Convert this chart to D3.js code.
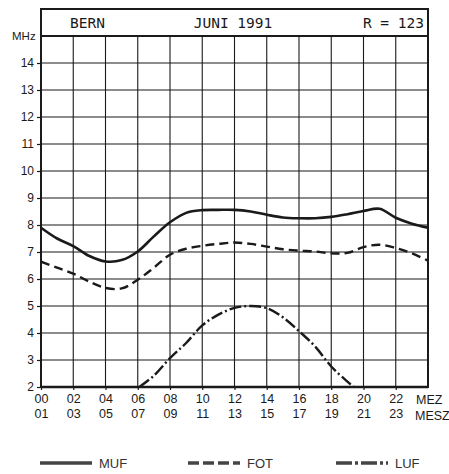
<!DOCTYPE html>
<html><head><meta charset="utf-8">
<script src="https://cdn.jsdelivr.net/npm/d3@7"></script>
<style>body{margin:0;background:#fff}svg{display:block}</style>
</head><body>
<script>
const title = ["BERN", "JUNI 1991", "R = 123"];
const yTicks = [2,3,4,5,6,7,8,9,10,11,12,13,14];
const xTicksMEZ = ["00","02","04","06","08","10","12","14","16","18","20","22"];
const xTicksMESZ = ["01","03","05","07","09","11","13","15","17","19","21","23"];
const hours = [0,1,2,3,4,5,6,7,8,9,10,11,12,13,14,15,16,17,18,19,20,21,22,23,24];
const muf = [7.9,7.5,7.22,6.85,6.65,6.7,7.02,7.58,8.1,8.45,8.55,8.56,8.56,8.5,8.38,8.28,8.25,8.25,8.3,8.4,8.52,8.6,8.27,8.05,7.9];
const fot = [6.64,6.42,6.2,5.9,5.67,5.65,5.97,6.42,6.9,7.12,7.23,7.3,7.35,7.3,7.2,7.1,7.05,7.02,6.95,6.97,7.18,7.27,7.15,6.95,6.68];
const lufHours = [6.1,7,8,9,10,11,12,13,14,15,16,17,18,19,19.4];
const luf = [2.0,2.42,3.07,3.63,4.28,4.68,4.93,5.0,4.92,4.58,4.07,3.5,2.76,2.2,2.0];
const legend = [["MUF","solid"],["FOT","dash"],["LUF","dashdot"]];

const W=449,H=474;
const L=41,R=428,T=36,B=387,HT=9;
const svg=d3.select("body").append("svg").attr("width",W).attr("height",H);
const x=d3.scaleLinear().domain([0,24]).range([L,R]);
const y=d3.scaleLinear().domain([2,15]).range([B,T]);
const ink="#1a1a1a";
const font="'Liberation Sans', Arial, sans-serif";

// grid
const g=svg.append("g");
g.selectAll("line.h").data(d3.range(3,15)).join("line")
 .attr("x1",L).attr("x2",R).attr("y1",d=>y(d)).attr("y2",d=>y(d))
 .attr("stroke",ink).attr("stroke-width",1.2);
g.selectAll("line.v").data(d3.range(2,24,2)).join("line")
 .attr("y1",T).attr("y2",B).attr("x1",d=>x(d)).attr("x2",d=>x(d))
 .attr("stroke",ink).attr("stroke-width",1.1);

// axes
const ya=d3.axisLeft(y).tickValues(yTicks).tickSize(4).tickFormat(d3.format("d"));
const yg=svg.append("g").attr("transform",`translate(${L},0)`).call(ya);
yg.select(".domain").remove();
yg.selectAll("line").attr("stroke",ink).attr("stroke-width",1.2);
yg.selectAll("text").attr("font-family",font).attr("font-size",12).attr("fill",ink).attr("x",-7);

const xa=d3.axisBottom(x).tickValues(d3.range(0,24,2)).tickSize(3).tickFormat((d,i)=>xTicksMEZ[i]);
const xg=svg.append("g").attr("transform",`translate(0,${B})`).call(xa);
xg.select(".domain").remove();
xg.selectAll("line").attr("stroke",ink).attr("stroke-width",1.2);
xg.selectAll("text").attr("font-family",font).attr("font-size",12.5).attr("fill",ink).attr("y",7);
const xg2=svg.append("g").attr("transform",`translate(0,${B+16})`)
 .call(d3.axisBottom(x).tickValues(d3.range(0,24,2)).tickSize(0).tickFormat((d,i)=>xTicksMESZ[i]));
xg2.select(".domain").remove();
xg2.selectAll("text").attr("font-family",font).attr("font-size",12.5).attr("fill",ink).attr("y",6);
svg.append("text").attr("x",416).attr("y",404).text("MEZ").attr("font-family",font).attr("font-size",12.5).attr("fill",ink);
svg.append("text").attr("x",415).attr("y",420).text("MESZ").attr("font-family",font).attr("font-size",12.5).attr("fill",ink);
svg.append("text").attr("x",12).attr("y",40).text("MHz").attr("font-family",font).attr("font-size",11.5).attr("fill",ink);

// frame
svg.append("rect").attr("x",L).attr("y",HT).attr("width",R-L).attr("height",B-HT)
 .attr("fill","none").attr("stroke",ink).attr("stroke-width",2);
svg.append("line").attr("x1",L).attr("x2",R).attr("y1",T).attr("y2",T).attr("stroke",ink).attr("stroke-width",2);
svg.append("line").attr("x1",L).attr("x2",R).attr("y1",B).attr("y2",B).attr("stroke",ink).attr("stroke-width",2.5);

// title
const tf="'DejaVu Sans Mono', monospace";
svg.append("text").attr("x",70).attr("y",28).text(title[0]).attr("font-family",tf).attr("font-size",14.5).attr("fill",ink);
svg.append("text").attr("x",233).attr("y",28).attr("text-anchor","middle").text(title[1]).attr("font-family",tf).attr("font-size",14.5).attr("fill",ink);
svg.append("text").attr("x",424).attr("y",28).attr("text-anchor","end").text(title[2]).attr("font-family",tf).attr("font-size",14.5).attr("fill",ink).attr("xml:space","preserve");

// curves
svg.append("clipPath").attr("id","c").append("rect").attr("x",L).attr("y",T).attr("width",R-L).attr("height",B-T);
const line=d3.line().curve(d3.curveCatmullRom.alpha(0.5));
const cg=svg.append("g").attr("clip-path","url(#c)");
cg.append("path").attr("d",line(hours.map((h,i)=>[x(h),y(muf[i])])))
 .attr("fill","none").attr("stroke",ink).attr("stroke-width",2.6);
cg.append("path").attr("d",line(hours.map((h,i)=>[x(h),y(fot[i])])))
 .attr("fill","none").attr("stroke",ink).attr("stroke-width",2.4).attr("stroke-dasharray","9,5");
cg.append("path").attr("d",line(lufHours.map((h,i)=>[x(h),y(luf[i])])))
 .attr("fill","none").attr("stroke",ink).attr("stroke-width",2.4).attr("stroke-dasharray","12,3,2,3");

// legend
const lx=[40,188,336];
legend.forEach(([name,style],i)=>{
  const ln=svg.append("line").attr("x1",lx[i]).attr("x2",lx[i]+52).attr("y1",463).attr("y2",463)
   .attr("stroke","#444").attr("stroke-width",3.5);
  if(style==="dash") ln.attr("stroke-dasharray","11,4");
  if(style==="dashdot") ln.attr("stroke-dasharray","16,3,3,3");
  svg.append("text").attr("x",lx[i]+59).attr("y",468).text(name).attr("font-family",font).attr("font-size",13).attr("fill","#333");
});
</script>
</body></html>
